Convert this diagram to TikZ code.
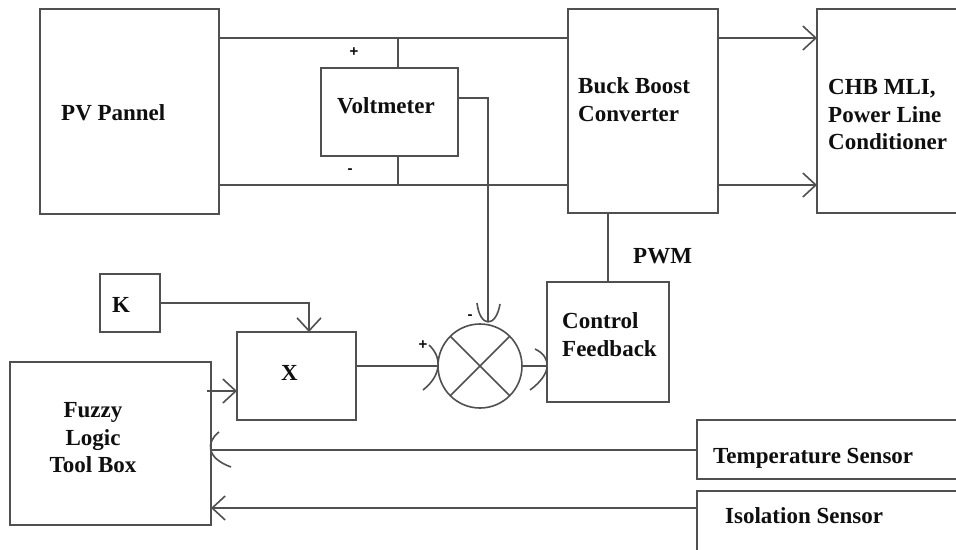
\documentclass[tikz,border=0pt]{standalone}
\usepackage{fontspec}
\setmainfont{Liberation Serif}
\newfontfamily\signfont{Liberation Sans}
\usetikzlibrary{arrows.meta,calc}
\definecolor{ln}{RGB}{80,80,80}
\definecolor{tx}{RGB}{15,15,15}
\tikzset{
  box/.style={draw=ln, line width=1.6pt, inner sep=0pt, outer sep=0pt, fill=white},
  wire/.style={draw=ln, line width=1.6pt},
  arr/.style={wire, -{Straight Barb[length=13pt,width=24pt]}},
  lbl/.style={inner sep=0pt, text=tx, font=\bfseries\fontsize{23}{27.5}\selectfont},
  sign/.style={inner sep=0pt, text=tx, font=\signfont\bfseries\fontsize{15}{15}\selectfont},
}
% curved arrow head through tip point: tip, first end, control 1, control 2, second end
\newcommand\curvetip[5]{\draw[wire] ($(#1)+(#2)$) .. controls ($(#1)+(#3)$) and ($(#1)+(#4)$) .. ($(#1)+(#5)$);}
\begin{document}
\begin{tikzpicture}[x=1pt,y=-1pt]
\clip (0,0) rectangle (956,549);
\fill[white] (0,0) rectangle (956,549);
% boxes
\node[box, minimum width=179pt, minimum height=205pt] (pv) at (129.5,111.5) {};
\node[box, minimum width=150pt, minimum height=204pt] (buck) at (643,111) {};
\node[box, minimum width=158pt, minimum height=204pt] (chb) at (896,111) {};
\node[box, minimum width=137pt, minimum height=88pt] (volt) at (389.5,112) {};
\node[box, minimum width=122pt, minimum height=120pt] (ctrl) at (608,342) {};
\node[box, minimum width=60pt, minimum height=58pt] (k) at (130,303) {};
\node[box, minimum width=119pt, minimum height=88pt] (xb) at (296.5,376) {};
\node[box, minimum width=201pt, minimum height=163pt] (fz) at (110.5,443.5) {};
\node[box, minimum width=278pt, minimum height=59pt] (temp) at (836,449.5) {};
\node[box, minimum width=278pt, minimum height=79pt] (iso) at (836,530.5) {};
\node[box, circle, minimum size=84pt] (sum) at (480,366) {};
\draw[wire] (sum.45) -- (sum.225) (sum.135) -- (sum.315);
% helper coordinates
\coordinate (t) at (398,38);
\coordinate (b) at (398,185);
\coordinate (vo) at (488,98);
\coordinate (kc) at (309,303);
\coordinate (xin) at (0,391);
\coordinate (ty) at (0,450);
\coordinate (iy) at (0,508);
\coordinate (vtip) at (488,322);
% connectors
\draw[wire] (pv.east |- t) -- (buck.west |- t);
\draw[wire] (pv.east |- b) -- (buck.west |- b);
\draw[wire] (volt.north -| t) -- (t);
\draw[wire] (volt.south -| b) -- (b);
\draw[arr] (buck.east |- t) -- (chb.west |- t);
\draw[arr] (buck.east |- b) -- (chb.west |- b);
\draw[wire] (volt.east |- vo) -- (vo) -- (vtip);
\curvetip{vtip}{-11,-19}{-8,6}{8,6}{12,-18}
\draw[arr] (k.east) -- (kc) -- (kc |- xb.north);
\draw[wire] (xb.east |- sum.west) -- (sum.west);
\curvetip{sum.west}{-9,-21}{4,-9}{4,9}{-15,24}
\draw[wire] (sum.east) -- (ctrl.west |- sum.east);
\coordinate (cin) at (ctrl.west |- sum.east);
\curvetip{cin}{-12,-17}{5,-9}{5,8}{-17,24}
\draw[wire] (ctrl.north) -- (ctrl.north |- buck.south);
\draw[arr] ([xshift=-4pt]fz.east |- xin) -- (xb.west |- xin);
\draw[wire] (temp.west |- ty) -- (fz.east |- ty);
\coordinate (fin) at (fz.east |- ty);
\curvetip{fin}{8,-18}{-5,-8}{-5,8}{20,17}
\draw[arr] (iso.west |- iy) -- (fz.east |- iy);
% texts
\node[lbl, anchor=base west] (tpv) at (61,120) {PV Pannel};
\node[lbl, anchor=base west] (tvolt) at (337,113) {Voltmeter};
\node[lbl, anchor=north west, align=left] (tbuck) at (578,77.5) {Buck Boost\\Converter};
\node[lbl, anchor=north west, align=left] (tchb) at (828,79.5) {CHB MLI,\\Power Line\\Conditioner};
\node[lbl, anchor=base west] (tpwm) at (633,263) {PWM};
\node[lbl, anchor=north west, align=left] (tctrl) at (562,312.5) {Control\\Feedback};
\node[lbl, anchor=base west] (tk) at (112,312) {K};
\node[lbl, anchor=base west] (tx) at (281,380) {X};
\node[lbl, anchor=north, align=center] (tfz) at (93,402.5) {Fuzzy\\Logic\\Tool Box};
\node[lbl, anchor=base west] (ttemp) at (713,463) {Temperature Sensor};
\node[lbl, anchor=base west] (tiso) at (725,523) {Isolation Sensor};
\node[sign] (vp) at (354,52) {+};
\node[sign] (vm) at (350,171) {-};
\node[sign] (sp) at (423,345) {+};
\node[sign] (sm) at (470,317) {-};
\end{tikzpicture}
\end{document}
